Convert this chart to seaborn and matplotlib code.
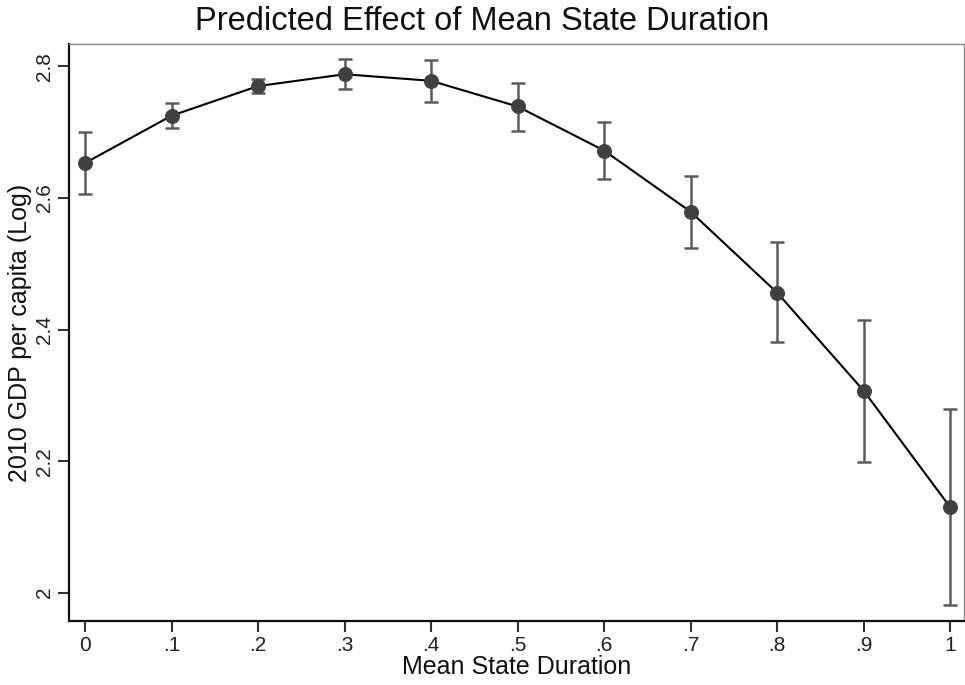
import numpy as np
import pandas as pd
import seaborn as sns
import matplotlib
matplotlib.use("Agg")
import matplotlib.pyplot as plt

# predicted values
duration = [0, .1, .2, .3, .4, .5, .6, .7, .8, .9, 1]
pred = [2.653, 2.725, 2.770, 2.788, 2.778, 2.739, 2.672, 2.579, 2.456, 2.307, 2.130]
ci_hi = [2.700, 2.745, 2.781, 2.811, 2.809, 2.775, 2.715, 2.633, 2.533, 2.415, 2.279]
ci_lo = [2.606, 2.706, 2.760, 2.765, 2.746, 2.701, 2.629, 2.524, 2.381, 2.199, 1.981]
xticklabels = ["0", ".1", ".2", ".3", ".4", ".5", ".6", ".7", ".8", ".9", "1"]
yticks = [2, 2.2, 2.4, 2.6, 2.8]

df = pd.DataFrame({"dur": duration, "pred": pred, "hi": ci_hi, "lo": ci_lo})

sns.set_style("white")
plt.rcParams["font.family"] = ["Liberation Sans", "DejaVu Sans"]

fig = plt.figure(figsize=(9.65, 6.85), dpi=100)
ax = fig.add_axes([0.0715, 0.0934, 0.9275, 0.8424])

ax.errorbar(df["dur"], df["pred"],
            yerr=[df["pred"] - df["lo"], df["hi"] - df["pred"]],
            fmt="none", ecolor="#5c5c5c", elinewidth=1.8, capsize=5, capthick=1.8, zorder=2)
sns.lineplot(data=df, x="dur", y="pred", ax=ax, color="black", linewidth=1.5,
             marker="o", markersize=10, markerfacecolor="#404040",
             markeredgecolor="#404040", zorder=3)

ax.set_xlim(-0.0185, 1.016)
ax.set_ylim(1.957, 2.834)
ax.set_xticks(duration)
ax.set_xticklabels(xticklabels)
ax.set_yticks(yticks)
ax.set_yticklabels([f"{v:g}" for v in yticks], rotation=90, va="center")
ax.tick_params(axis="both", direction="out", length=8, width=1.5, labelsize=15,
               color="#333333", labelcolor="#222222", bottom=True, left=True)
ax.tick_params(axis="x", pad=3)
ax.tick_params(axis="y", pad=3)

for s in ["left", "bottom"]:
    ax.spines[s].set_color("#111111")
    ax.spines[s].set_linewidth(1.6)
for s in ["top", "right"]:
    ax.spines[s].set_color("#888888")
    ax.spines[s].set_linewidth(1.0)

ax.set_xlabel("Mean State Duration", fontsize=18, color="#111111", labelpad=0)
ax.set_ylabel("2010 GDP per capita (Log)", fontsize=18, color="#111111", labelpad=2)
fig.suptitle("Predicted Effect of Mean State Duration", x=0.5, y=0.968, va="center",
             fontsize=23.5, color="#111111")

fig.savefig("out.png", dpi=100)
